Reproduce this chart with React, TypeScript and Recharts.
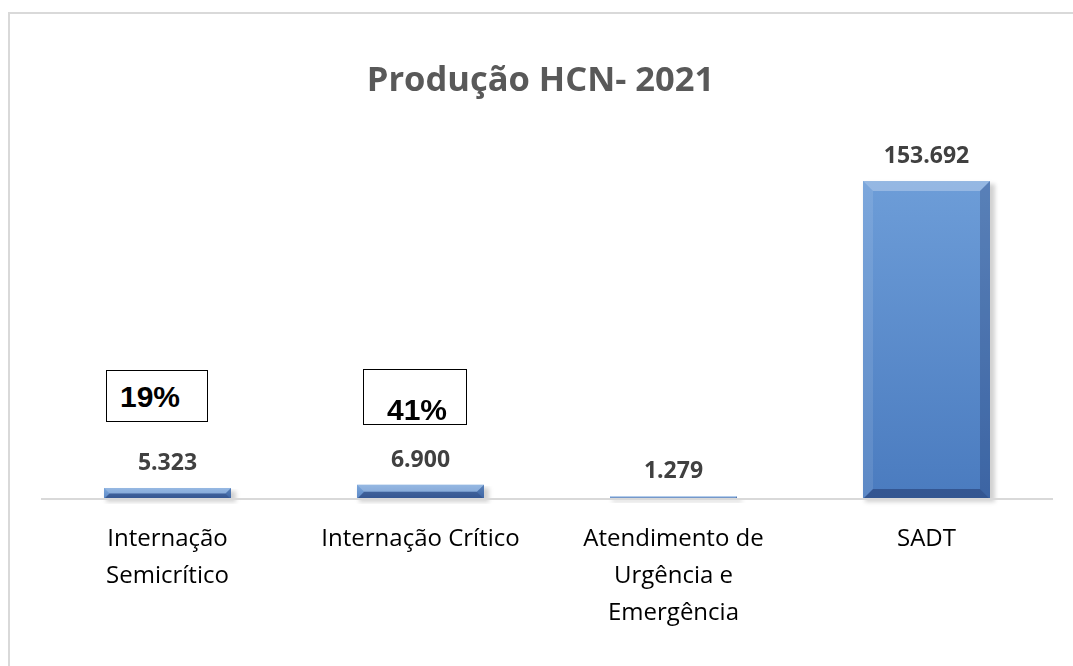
import React from 'react';
import { BarChart, Bar, XAxis, YAxis, LabelList } from 'recharts';

const categories = [
  'Internação Semicrítico',
  'Internação Crítico',
  'Atendimento de Urgência e Emergência',
  'SADT',
];
const values = [5323, 6900, 1279, 153692];
const shares = ['19%', '41%'];

const data = categories.map((name, i) => ({ name, value: values[i] }));

const FONT = '"Open Sans", "DejaVu Sans", sans-serif';
const TICK_SIZE = 24;

const fmt = (v: number) => String(v).replace(/\B(?=(\d{3})+(?!\d))/g, '.');

// greedy word wrap measured with canvas
const wrapText = (s: string, maxWidth: number) => {
  const ctx = document.createElement('canvas').getContext('2d');
  if (!ctx) return [s];
  ctx.font = `${TICK_SIZE}px ${FONT}`;
  const words = s.split(' ');
  const lines: string[] = [];
  let cur = '';
  words.forEach((w) => {
    const test = cur ? `${cur} ${w}` : w;
    if (cur && ctx.measureText(test).width > maxWidth) {
      lines.push(cur);
      cur = w;
    } else {
      cur = test;
    }
  });
  if (cur) lines.push(cur);
  return lines;
};

const BevelBar = (props: any) => {
  const { x, y, width, height } = props;
  if (!height || height <= 0) return null;
  const b = Math.min(10, height / 2, width / 2);
  const r = x + width;
  const btm = y + height;
  return (
    <g>
      <rect x={x + 2} y={y + 3} width={width + 3} height={height} fill="rgba(0,0,0,0.18)" filter="url(#barShadow)" />
      <rect x={x} y={y} width={width} height={height} fill="url(#barFill)" />
      <polygon points={`${x},${y} ${r},${y} ${r - b},${y + b} ${x + b},${y + b}`} fill="rgba(255,255,255,0.28)" />
      <polygon points={`${x},${y} ${x + b},${y + b} ${x + b},${btm - b} ${x},${btm}`} fill="rgba(255,255,255,0.1)" />
      <polygon points={`${r},${y} ${r},${btm} ${r - b},${btm - b} ${r - b},${y + b}`} fill="rgba(0,0,40,0.18)" />
      <polygon points={`${x},${btm} ${r},${btm} ${r - b},${btm - b} ${x + b},${btm - b}`} fill="rgba(0,0,40,0.3)" />
    </g>
  );
};

const CategoryTick = (props: any) => {
  const { x, y, payload } = props;
  const lines = wrapText(String(payload.value), 212);
  return (
    <text x={x} y={y + 39} textAnchor="middle" fill="#000" fontSize={TICK_SIZE} fontFamily={FONT}>
      {lines.map((ln, i) => (
        <tspan key={i} x={x} dy={i === 0 ? 0 : 37}>
          {ln}
        </tspan>
      ))}
    </text>
  );
};

const boxStyle: React.CSSProperties = {
  position: 'absolute',
  border: '1px solid #000',
  background: '#fff',
  fontFamily: '"Liberation Sans", Arial, sans-serif',
  fontWeight: 'bold',
  fontSize: 30,
  lineHeight: '30px',
  color: '#000',
  boxSizing: 'border-box',
};

export default function App() {
  return (
    <div style={{ position: 'relative', width: 1057, height: 650 }}>
      <div style={{ position: 'fixed', left: 8, top: 12, right: 0, height: 2, background: '#d9d9d9' }} />
      <div style={{ position: 'fixed', left: 8, top: 12, bottom: 0, width: 2, background: '#d9d9d9' }} />
      <div
        style={{
          position: 'absolute',
          left: 0,
          top: 50,
          width: 1065,
          textAlign: 'center',
          fontFamily: FONT,
          fontWeight: 'bold',
          fontSize: 34.5,
          color: '#595959',
          lineHeight: '40px',
        }}
      >
        Produção HCN- 2021
      </div>
      <BarChart
        width={1057}
        height={650}
        data={data}
        margin={{ top: 161, right: 12, bottom: 0, left: 33 }}
        barSize={127}
        style={{ position: 'absolute', left: 0, top: 0 }}
      >
        <defs>
          <linearGradient id="barFill" x1="0" y1="0" x2="0" y2="1">
            <stop offset="0%" stopColor="#6d9dd8" />
            <stop offset="100%" stopColor="#4a7bbf" />
          </linearGradient>
          <filter id="barShadow" x="-10%" y="-10%" width="120%" height="120%">
            <feGaussianBlur stdDeviation="2" />
          </filter>
        </defs>
        <XAxis
          dataKey="name"
          axisLine={{ stroke: '#d9d9d9', strokeWidth: 2 }}
          tickLine={false}
          interval={0}
          tick={<CategoryTick />}
          height={159}
        />
        <YAxis hide domain={[0, 159500]} />
        <Bar dataKey="value" shape={<BevelBar />} isAnimationActive={false}>
          <LabelList
            dataKey="value"
            position="top"
            offset={18}
            formatter={(v: any) => fmt(Number(v))}
            style={{ fontFamily: FONT, fontWeight: 'bold', fontSize: 23, fill: '#404040' }}
          />
        </Bar>
      </BarChart>
      <div style={{ ...boxStyle, left: 98, top: 362, width: 102, height: 52, paddingLeft: 13, paddingTop: 11 }}>
        {shares[0]}
      </div>
      <div style={{ ...boxStyle, left: 355, top: 361, width: 104, height: 56, paddingLeft: 23, paddingTop: 25 }}>
        {shares[1]}
      </div>
    </div>
  );
}
